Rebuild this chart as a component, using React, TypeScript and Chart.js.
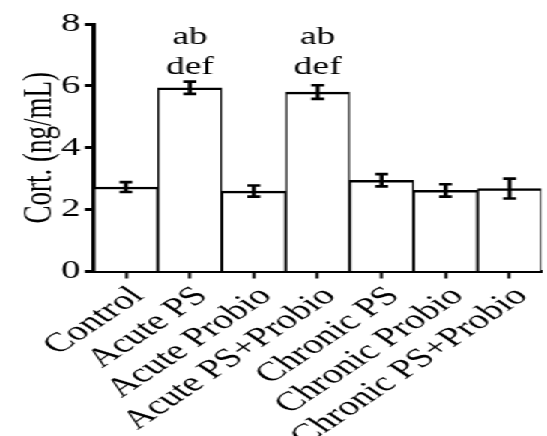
import React, { useEffect, useRef } from 'react';
import { Chart, registerables } from 'chart.js';

Chart.register(...registerables);

const categories = ['Control', 'Acute PS', 'Acute Probio', 'Acute PS+Probio', 'Chronic PS', 'Chronic Probio', 'Chronic PS+Probio'];
const means = [2.73, 5.94, 2.60, 5.80, 2.95, 2.62, 2.68];
const errors = [0.16, 0.20, 0.18, 0.22, 0.20, 0.20, 0.32];
const letterLine1 = ['', 'ab', '', 'ab', '', '', ''];
const letterLine2 = ['', 'def', '', 'def', '', '', ''];
const letterLevels = [7.34, 6.4];
const yMin = 0;
const yMax = 8;
const yStep = 2;

const FONT = '"Liberation Serif", "Times New Roman", Times, serif';
const INNER_W = 365;
const H = 436;
const STRETCH = 547 / INNER_W;

const errorBarPlugin = {
  id: 'errorBars',
  afterDatasetsDraw(chart: any) {
    const { ctx } = chart;
    const y = chart.scales.y;
    const meta = chart.getDatasetMeta(0);
    ctx.save();
    ctx.strokeStyle = '#000';
    ctx.lineWidth = 2.7;
    meta.data.forEach((bar: any, i: number) => {
      const cx = bar.x;
      const top = y.getPixelForValue(means[i] + errors[i]);
      const bot = y.getPixelForValue(means[i] - errors[i]);
      const hw = 4.3;
      ctx.beginPath();
      ctx.moveTo(cx, top);
      ctx.lineTo(cx, bot);
      ctx.moveTo(cx - hw, top);
      ctx.lineTo(cx + hw, top);
      ctx.moveTo(cx - hw, bot);
      ctx.lineTo(cx + hw, bot);
      ctx.stroke();
    });
    ctx.fillStyle = '#000';
    ctx.font = `25px ${FONT}`;
    ctx.textAlign = 'center';
    ctx.textBaseline = 'alphabetic';
    meta.data.forEach((bar: any, i: number) => {
      if (letterLine1[i]) ctx.fillText(letterLine1[i], bar.x, y.getPixelForValue(letterLevels[0]));
      if (letterLine2[i]) ctx.fillText(letterLine2[i], bar.x, y.getPixelForValue(letterLevels[1]));
    });
    ctx.restore();
  },
};

export default function App() {
  const canvasRef = useRef<HTMLCanvasElement | null>(null);

  useEffect(() => {
    let chart: Chart | null = null;
    let cancelled = false;
    const build = () => {
      if (cancelled || !canvasRef.current) return;
      chart = new Chart(canvasRef.current, {
        type: 'bar',
        data: {
          labels: categories,
          datasets: [
            {
              data: means,
              backgroundColor: '#ffffff',
              borderColor: '#000000',
              borderWidth: { top: 2.5, left: 1.3, right: 1.3, bottom: 0 } as any,
              borderSkipped: 'start',
              barPercentage: 1,
              categoryPercentage: 1,
            },
          ],
        },
        options: {
          responsive: false,
          animation: false,
          devicePixelRatio: 1,
          layout: { padding: { top: 24, right: 1.7, bottom: 0, left: 0 } },
          plugins: {
            legend: { display: false },
            tooltip: { enabled: false },
          },
          scales: {
            x: {
              offset: true,
              grid: {
                offset: false,
                drawOnChartArea: false,
                drawTicks: true,
                tickLength: 7,
                tickWidth: 2,
                tickColor: '#000',
              },
              border: { display: true, color: '#000', width: 3 },
              ticks: {
                color: '#000',
                font: { family: FONT, size: 27 },
                minRotation: 45,
                maxRotation: 45,
                autoSkip: false,
                padding: 2,
                labelOffset: 8,
              },
              afterFit: (scale: any) => {
                scale.height = 164.5;
              },
            },
            y: {
              min: yMin,
              max: yMax,
              grid: {
                drawOnChartArea: false,
                drawTicks: true,
                tickLength: 6,
                tickWidth: 3,
                tickColor: '#000',
              },
              border: { display: true, color: '#000', width: 3 },
              ticks: {
                stepSize: yStep,
                color: '#000',
                font: { family: FONT, size: 26 },
                padding: 3,
              },
              title: {
                display: true,
                text: 'Cort. (ng/mL)',
                color: '#000',
                font: { family: FONT, size: 27, weight: 'normal' },
                padding: { top: 11, bottom: 0 },
              },
              afterFit: (scale: any) => {
                scale.width = 62.7;
              },
            },
          },
        },
        plugins: [errorBarPlugin],
      });
    };
    const fonts = (document as any).fonts;
    if (fonts && fonts.load) {
      Promise.all([
        fonts.load('25px "Liberation Serif"'),
        fonts.load('27px "Liberation Serif"'),
      ])
        .catch(() => null)
        .then(() => build());
    } else {
      build();
    }
    return () => {
      cancelled = true;
      if (chart) chart.destroy();
    };
  }, []);

  return (
    <div
      style={{
        position: 'fixed',
        left: 0,
        top: 0,
        width: INNER_W,
        height: H,
        background: '#fff',
        transform: `scaleX(${STRETCH})`,
        transformOrigin: '0 0',
        fontFamily: FONT,
      }}
    >
      <canvas ref={canvasRef} width={INNER_W} height={H} />
    </div>
  );
}
